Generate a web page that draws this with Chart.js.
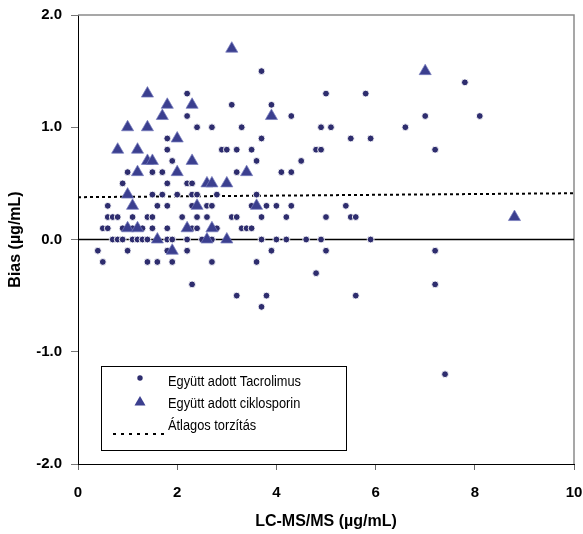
<!DOCTYPE html>
<html>
<head>
<meta charset="utf-8">
<script src="https://cdn.jsdelivr.net/npm/chart.js@4.4.1/dist/chart.umd.min.js"></script>
<style>
  html, body { margin: 0; padding: 0; background: #fff; }
  #wrap { width: 583px; height: 534px; position: relative; }
</style>
</head>
<body>
<div id="wrap"><canvas id="c" width="583" height="534"></canvas></div>
<script>
// ---- Data ----
const tacX = [3.7, 7.8, 2.2, 5.0, 5.8, 3.1, 3.9, 2.2, 4.3, 7.0, 8.1,
  2.4, 2.7, 3.3, 4.9, 5.1, 6.6, 1.8, 3.7, 5.5, 5.9,
  1.8, 2.9, 3.0, 3.2, 3.5, 4.8, 4.9, 7.2, 1.9, 3.6, 4.5,
  1.0, 1.5, 1.7, 3.2, 4.1, 4.3, 0.9, 1.8, 2.2, 2.3,
  1.5, 1.7, 2.0, 2.3, 2.4, 2.8, 3.6,
  0.6, 1.6, 1.8, 2.3, 2.6, 2.7, 3.5, 3.8, 4.0, 4.3, 5.4,
  0.6, 0.7, 0.8, 1.1, 1.4, 1.5, 2.1, 2.4, 2.6, 3.1, 3.2, 3.7, 4.2, 5.0, 5.5, 5.6,
  0.5, 0.6, 0.9, 1.1, 1.3, 1.5, 1.8, 2.3, 2.4, 2.8, 3.3, 3.4, 3.5,
  0.7, 0.8, 0.9, 1.1, 1.2, 1.3, 1.4, 1.8, 1.9, 2.2, 2.5, 2.7, 3.7, 4.0, 4.2, 4.6, 4.9, 5.9,
  0.4, 1.0, 1.8, 2.2, 3.9, 5.0, 7.2,
  0.5, 1.4, 1.6, 1.9, 2.7, 3.6,
  4.8, 2.3, 7.2, 3.2, 3.8, 5.6, 3.7, 7.4];
const tacY = [1.5, 1.4, 1.3, 1.3, 1.3, 1.2, 1.2, 1.1, 1.1, 1.1, 1.1,
  1.0, 1.0, 1.0, 1.0, 1.0, 1.0, 0.9, 0.9, 0.9, 0.9,
  0.8, 0.8, 0.8, 0.8, 0.8, 0.8, 0.8, 0.8, 0.7, 0.7, 0.7,
  0.6, 0.6, 0.6, 0.6, 0.6, 0.6, 0.5, 0.5, 0.5, 0.5,
  0.4, 0.4, 0.4, 0.4, 0.4, 0.4, 0.4,
  0.3, 0.3, 0.3, 0.3, 0.3, 0.3, 0.3, 0.3, 0.3, 0.3, 0.3,
  0.2, 0.2, 0.2, 0.2, 0.2, 0.2, 0.2, 0.2, 0.2, 0.2, 0.2, 0.2, 0.2, 0.2, 0.2, 0.2,
  0.1, 0.1, 0.1, 0.1, 0.1, 0.1, 0.1, 0.1, 0.1, 0.1, 0.1, 0.1, 0.1,
  0, 0, 0, 0, 0, 0, 0, 0, 0, 0, 0, 0, 0, 0, 0, 0, 0, 0,
  -0.1, -0.1, -0.1, -0.1, -0.1, -0.1, -0.1,
  -0.2, -0.2, -0.2, -0.2, -0.2, -0.2,
  -0.3, -0.4, -0.4, -0.5, -0.5, -0.5, -0.6, -1.2];

const cycX = [3.1, 1.4, 1.8, 2.3, 1.7, 3.9, 1.0, 1.4, 2.0, 0.8, 1.2,
  1.4, 1.5, 2.3, 1.2, 2.0, 3.4, 2.6, 2.7, 3.0, 1.0, 1.1, 2.4, 3.6,
  1.0, 1.2, 2.2, 2.7, 1.6, 2.6, 3.0, 1.9, 7.0, 8.8];
const cycY = [1.7, 1.3, 1.2, 1.2, 1.1, 1.1, 1.0, 1.0, 0.9, 0.8, 0.8,
  0.7, 0.7, 0.7, 0.6, 0.6, 0.6, 0.5, 0.5, 0.5, 0.4, 0.3, 0.3, 0.3,
  0.1, 0.1, 0.1, 0.1, 0.0, 0.0, 0.0, -0.1, 1.5, 0.2];

const meanX = [0, 10];
const meanY = [0.377, 0.412];
const zeroX = [0, 10];
const zeroY = [0, 0];

const seriesLabels = ['Együtt adott Tacrolimus', 'Együtt adott ciklosporin', 'Átlagos torzítás'];
const xTickLabels = ['0', '2', '4', '6', '8', '10'];
const yTickLabels = ['-2.0', '-1.0', '0.0', '1.0', '2.0'];
const xTitle = 'LC-MS/MS (µg/mL)';
const yTitle = 'Bias (µg/mL)';

// ---- Build datasets ----
const toPts = (xs, ys) => xs.map((x, i) => ({x: x, y: ys[i]}));
const CIRCLE = '#2e2d6e';
const TRI = '#3b3f8f';
const LEGEND_FONT = '"Liberation Sans Narrow", "Arial Narrow", "Liberation Sans", sans-serif';

const legendPlugin = {
  id: 'boxLegend',
  afterDraw(chart) {
    const ctx = chart.ctx;
    ctx.save();
    // box
    ctx.fillStyle = '#fff';
    ctx.fillRect(101.5, 366.5, 245, 84);
    ctx.strokeStyle = '#000';
    ctx.lineWidth = 1;
    ctx.strokeRect(101.5, 366.5, 245, 84);
    // markers
    ctx.fillStyle = CIRCLE;
    ctx.beginPath(); ctx.arc(140, 378, 2.7, 0, Math.PI * 2); ctx.fill();
    ctx.fillStyle = TRI;
    ctx.beginPath();
    ctx.moveTo(140, 396); ctx.lineTo(145.5, 405.5); ctx.lineTo(134.5, 405.5); ctx.closePath(); ctx.fill();
    ctx.strokeStyle = '#000';
    ctx.lineWidth = 2;
    ctx.setLineDash([3, 5]);
    ctx.beginPath(); ctx.moveTo(113, 434); ctx.lineTo(166, 434); ctx.stroke();
    ctx.setLineDash([]);
    // texts (horizontally condensed to mimic the narrow face of the original)
    ctx.fillStyle = '#000';
    ctx.font = '14px ' + LEGEND_FONT;
    ctx.textBaseline = 'middle';
    ctx.textAlign = 'left';
    const ys = [382, 404, 426];
    const w0 = ctx.measureText(seriesLabels[0]).width;
    const sx = Math.min(1, 133 / w0);
    seriesLabels.forEach((t, i) => {
      ctx.save();
      ctx.translate(168, ys[i]);
      ctx.scale(sx, 1);
      ctx.fillText(t, 0, 0);
      ctx.restore();
    });
    ctx.restore();
  }
};

const framePlugin = {
  id: 'frame',
  beforeDatasetsDraw(chart) {
    const {ctx, chartArea: a} = chart;
    ctx.save();
    ctx.strokeStyle = '#8a8a8a';
    ctx.lineWidth = 1.5;
    ctx.beginPath();
    ctx.moveTo(a.left, a.top);
    ctx.lineTo(a.right, a.top);
    ctx.lineTo(a.right, a.bottom);
    ctx.stroke();
    ctx.restore();
  }
};

const xTickFont = {family: '"Liberation Sans", Arial, sans-serif', size: 15, weight: 'bold', lineHeight: 3.05};
const yTickFont = {family: '"Liberation Sans", Arial, sans-serif', size: 15, weight: 'bold', lineHeight: 0.8};
const titleFont = {family: '"Liberation Sans", Arial, sans-serif', size: 16, weight: 'bold'};

new Chart(document.getElementById('c'), {
  type: 'scatter',
  data: {
    datasets: [
      {
        label: seriesLabels[1],
        data: toPts(cycX, cycY),
        pointStyle: 'triangle',
        pointRadius: 7,
        pointBackgroundColor: TRI,
        pointBorderColor: 'rgba(120,125,190,0.9)',
        pointBorderWidth: 0.8,
        order: 0
      },
      {
        label: seriesLabels[0],
        data: toPts(tacX, tacY),
        pointStyle: 'circle',
        pointRadius: 3.4,
        pointBackgroundColor: CIRCLE,
        pointBorderColor: '#ffffff',
        pointBorderWidth: 0.9,
        order: 1
      },
      {
        label: seriesLabels[2],
        type: 'line',
        data: toPts(meanX, meanY),
        borderColor: '#000',
        borderWidth: 2,
        borderDash: [3, 3],
        pointRadius: 0,
        fill: false,
        order: 2
      },
      {
        label: 'zero',
        type: 'line',
        data: toPts(zeroX, zeroY),
        borderColor: '#000',
        borderWidth: 1.5,
        pointRadius: 0,
        fill: false,
        order: 3
      }
    ]
  },
  options: {
    responsive: false,
    animation: false,
    devicePixelRatio: 1,
    layout: {padding: {left: 0, right: 9, top: 15, bottom: 0}},
    plugins: {legend: {display: false}, tooltip: {enabled: false}},
    scales: {
      x: {
        type: 'linear', min: 0, max: 10,
        afterFit(s) { s.height = 70; },
        afterBuildTicks(s) { s.ticks = xTickLabels.map(v => ({value: parseFloat(v)})); },
        ticks: {
          font: xTickFont, color: '#000', padding: 0,
          callback: (v) => xTickLabels[xTickLabels.map(parseFloat).indexOf(v)],
          maxRotation: 0, autoSkip: false
        },
        grid: {drawOnChartArea: false, drawTicks: true, tickLength: 6, color: '#666', tickColor: '#666'},
        border: {display: true, color: '#000', width: 1},
        title: {display: true, text: xTitle, font: titleFont, color: '#000', padding: {top: 0, bottom: 3}}
      },
      y: {
        type: 'linear', min: -2, max: 2,
        afterFit(s) { s.width = 78; },
        afterBuildTicks(s) { s.ticks = yTickLabels.map(v => ({value: parseFloat(v)})); },
        ticks: {
          font: yTickFont, color: '#000', padding: 9,
          callback: (v) => yTickLabels[yTickLabels.map(parseFloat).indexOf(v)],
          autoSkip: false
        },
        grid: {drawOnChartArea: false, drawTicks: true, tickLength: 7, color: '#777', tickColor: '#777'},
        border: {display: true, color: '#000', width: 1},
        title: {display: true, text: yTitle, font: titleFont, color: '#000', padding: {top: 6, bottom: 0}}
      }
    }
  },
  plugins: [framePlugin, legendPlugin]
});
</script>
</body>
</html>
